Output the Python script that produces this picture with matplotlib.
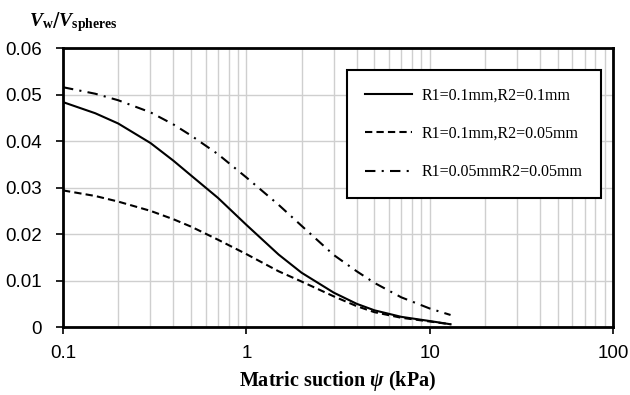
import matplotlib
matplotlib.use('Agg')
import matplotlib.pyplot as plt
from matplotlib.ticker import NullFormatter

suction = [0.1, 0.15, 0.2, 0.3, 0.4, 0.5, 0.7, 1, 1.5, 2, 3, 4, 5, 7, 10, 13]
r1_01_r2_01 = [0.0484, 0.0460, 0.0438, 0.0396, 0.0358, 0.0326, 0.0278, 0.0220, 0.0156, 0.0117,
               0.0074, 0.0050, 0.0036, 0.0022, 0.0013, 0.0006]
r1_01_r2_005 = [0.0294, 0.0282, 0.0270, 0.0250, 0.0232, 0.0216, 0.0188, 0.0157, 0.0120, 0.0098,
                0.0066, 0.0045, 0.0032, 0.0020, 0.0012, 0.0006]
r1_005_r2_005 = [0.0516, 0.0502, 0.0488, 0.0462, 0.0436, 0.0412, 0.0372, 0.0322, 0.0263, 0.0218,
                 0.0155, 0.0120, 0.0095, 0.0064, 0.0040, 0.0026]
labels = ['R1=0.1mm,R2=0.1mm', 'R1=0.1mm,R2=0.05mm', 'R1=0.05mmR2=0.05mm']

serif = ['Liberation Serif', 'DejaVu Serif']
sans = ['Liberation Sans', 'DejaVu Sans']
plt.rcParams['mathtext.fontset'] = 'custom'
plt.rcParams['mathtext.it'] = 'Liberation Serif:italic:bold'
plt.rcParams['mathtext.bf'] = 'Liberation Serif:bold'
plt.rcParams['mathtext.rm'] = 'Liberation Serif:bold'

fig = plt.figure(figsize=(6.3, 3.95), dpi=100)
ax = fig.add_axes([0.1, 0.172, 0.873, 0.706])

ax.plot(suction, r1_01_r2_01, color='black', lw=1.5, label=labels[0])
ax.plot(suction, r1_01_r2_005, color='black', lw=1.5, dashes=(3.5, 2), label=labels[1])
ax.plot(suction, r1_005_r2_005, color='black', lw=1.5, dashes=(5, 3, 1, 3), label=labels[2])

ax.set_xscale('log')
ax.set_xlim(0.1, 100)
ax.set_ylim(0, 0.06)
ax.set_yticks([0, 0.01, 0.02, 0.03, 0.04, 0.05, 0.06])
ax.set_yticklabels(['0', '0.01', '0.02', '0.03', '0.04', '0.05', '0.06'])
ax.set_xticks([0.1, 1, 10, 100])
ax.set_xticklabels(['0.1', '1', '10', '100'])
ax.xaxis.set_minor_formatter(NullFormatter())
ax.tick_params(axis='x', which='minor', length=0)
ax.tick_params(which='major', length=5, width=1.2, labelsize=13.5, direction='out')
ax.tick_params(axis='x', pad=8)
ax.tick_params(axis='y', pad=10)
for t in ax.get_xticklabels() + ax.get_yticklabels():
    t.set_family(sans)

ax.grid(True, which='major', color='#cfcfcf', lw=1)
ax.grid(True, which='minor', axis='x', color='#cfcfcf', lw=1)
ax.set_axisbelow(True)
for s in ax.spines.values():
    s.set_linewidth(2)
    s.set_color('black')

ax.set_xlabel('Matric suction $\\psi$ (kPa)', family=serif, fontsize=14.5, fontweight='bold', labelpad=5)
fig.text(0.046, 0.944, '$V_\\mathbf{w}$/$V_\\mathbf{spheres}$', fontsize=14,
         ha='left', va='center')

leg = ax.legend(loc='upper right', bbox_to_anchor=(0.992, 0.95), prop={'family': serif, 'size': 11.5},
                frameon=True, fancybox=False, edgecolor='black', framealpha=1,
                handlelength=3.0, labelspacing=1.4, borderpad=1.1, handletextpad=0.6)
leg.get_frame().set_linewidth(1.5)

fig.savefig('out.png', dpi=100)
